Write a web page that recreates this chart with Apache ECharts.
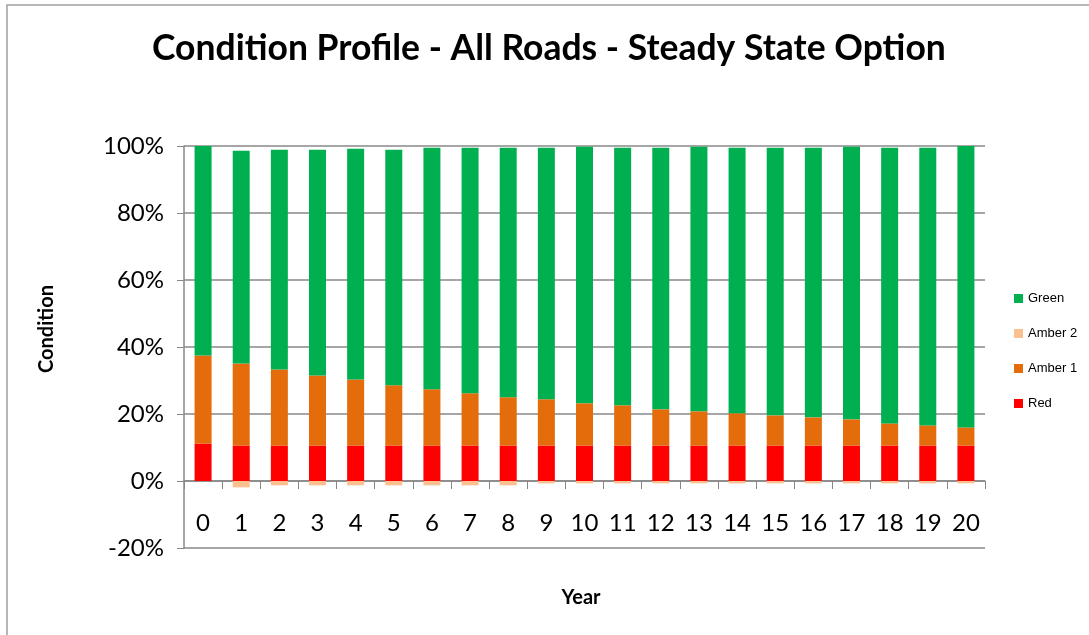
<!DOCTYPE html>
<html>
<head>
<meta charset="utf-8">
<script src="https://cdn.jsdelivr.net/npm/echarts@6/dist/echarts.min.js"></script>
<style>
html,body{margin:0;padding:0;background:#fff;}
#chart{width:1089px;height:635px;}
</style>
</head>
<body>
<div id="chart"></div>
<script>
const years = ['0','1','2','3','4','5','6','7','8','9','10','11','12','13','14','15','16','17','18','19','20'];
const red = [11.2,10.6,10.6,10.6,10.6,10.6,10.6,10.6,10.6,10.6,10.6,10.6,10.6,10.6,10.6,10.6,10.6,10.6,10.6,10.6,10.6];
const amber1 = [26.3,24.5,22.7,20.9,19.7,18.0,16.8,15.6,14.4,13.8,12.6,12.0,10.8,10.2,9.6,9.0,8.4,7.8,6.6,6.0,5.4];
const amber2 = [0,-1.9,-1.3,-1.3,-1.3,-1.3,-1.3,-1.3,-1.3,-0.7,-0.7,-0.7,-0.7,-0.7,-0.7,-0.7,-0.7,-0.7,-0.7,-0.7,-0.7];
const green = [62.5,63.5,65.6,67.4,68.9,70.3,72.1,73.3,74.5,75.1,76.6,76.9,78.1,79.0,79.3,79.9,80.5,81.4,82.3,82.9,84.0];
const yTicks = {min:-20, max:100, interval:20};

const chart = echarts.init(document.getElementById('chart'), null, {renderer:'canvas'});
const labelFont = 'Lato, "Open Sans", sans-serif';
chart.setOption({
  animation:false,
  backgroundColor:'#fff',
  title:{
    text:'Condition Profile - All Roads - Steady State Option',
    left:147, top:26,
    textStyle:{fontFamily:labelFont, fontWeight:'bold', fontSize:35.5, color:'#000'}
  },
  graphic:[
    {type:'rect', shape:{x:7, y:5, width:1100, height:650},
     style:{fill:'none', stroke:'#a0a0a0', lineWidth:1.5}, silent:true},
    {type:'text', x:581, y:598, style:{text:'Year', fontFamily:labelFont, fontWeight:'bold', fontSize:20, fill:'#000', align:'center', verticalAlign:'middle'}},
    {type:'text', x:47, y:329, rotation:Math.PI/2, style:{text:'Condition', fontFamily:labelFont, fontWeight:'bold', fontSize:20, fill:'#000', align:'center', verticalAlign:'middle'}}
  ],
  legend:{
    orient:'vertical', left:1014, top:292, itemGap:22, padding:0,
    itemWidth:9, itemHeight:9, icon:'rect',
    data:['Green','Amber 2','Amber 1','Red'],
    textStyle:{fontFamily:'"Liberation Sans", Arial, sans-serif', fontSize:13, color:'#000'}
  },
  grid:{left:184, right:104, top:146, bottom:87, containLabel:false, outerBoundsMode:'none'},
  xAxis:{
    type:'category', data:years,
    axisLine:{onZero:true, lineStyle:{color:'#888', width:1.5}},
    axisTick:{show:true, length:8, lineStyle:{color:'#888'}},
    axisLabel:{margin:-37, fontFamily:labelFont, fontSize:24, color:'#000'}
  },
  yAxis:{
    type:'value', min:yTicks.min, max:yTicks.max, interval:yTicks.interval,
    axisLine:{show:true, lineStyle:{color:'#888', width:1.5}},
    axisTick:{show:true, length:7, lineStyle:{color:'#888'}},
    axisLabel:{formatter:'{value}%', margin:20, fontFamily:labelFont, fontSize:24, color:'#000'},
    splitLine:{show:true, lineStyle:{color:'#888', width:1.5}}
  },
  series:[
    {name:'Red', type:'bar', stack:'s', data:red, barWidth:17, itemStyle:{color:'#FF0000'}},
    {name:'Amber 1', type:'bar', stack:'s', data:amber1, barWidth:17, itemStyle:{color:'#E46C0A'}},
    {name:'Amber 2', type:'bar', stack:'s', data:amber2, barWidth:17, itemStyle:{color:'#FAC090'}},
    {name:'Green', type:'bar', stack:'s', data:green, barWidth:17, itemStyle:{color:'#00B050'}}
  ]
});
</script>
</body>
</html>
